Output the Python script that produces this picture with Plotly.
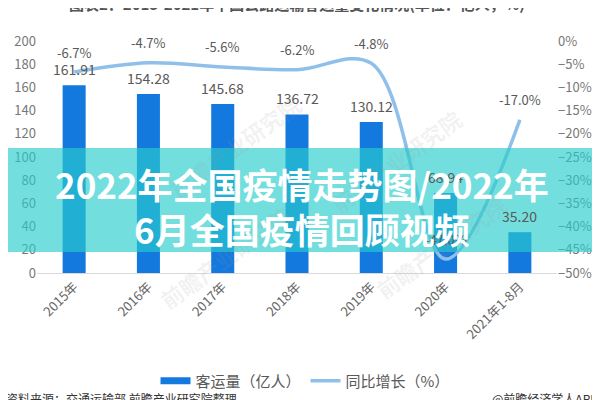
import plotly.graph_objects as go

categories = ["2015年", "2016年", "2017年", "2018年", "2019年", "2020年", "2021年1-8月"]
passengers = [161.91, 154.28, 145.68, 136.72, 130.12, 68.94, 35.20]
growth = [-6.7, -4.7, -5.6, -6.2, -4.8, -47.0, -17.0]

FONT = "Noto Sans CJK SC"
BAR_COLOR = "#1479DE"
LINE_COLOR = "#8FC0EA"

# page is offset by the browser's default 8px body margin; compensate in margins
OFF = 8
PL, PR, PT, PB = 37, 557, 41, 273  # plot area in page pixels


def py(page_y):
    return (PB - page_y) / (PB - PT)


def px(page_x):
    return (page_x - PL) / (PR - PL)


fig = go.Figure()

# faint watermarks
for wx, wy in [(235, 85), (470, 100), (225, 318), (515, 308)]:
    fig.add_annotation(text="<b>前瞻产业研究院</b>", xref="paper", yref="paper",
                       x=px(wx), y=py(wy), showarrow=False, textangle=-36,
                       font=dict(size=22, color="rgba(150,150,150,0.12)", family=FONT))

fig.add_trace(go.Bar(
    x=categories, y=passengers, name="客运量（亿人）", showlegend=False,
    marker=dict(color=BAR_COLOR, line=dict(width=0)), width=0.31,
))
fig.add_trace(go.Scatter(
    x=categories, y=growth, name="同比增长（%）", yaxis="y2", showlegend=False,
    mode="lines", line=dict(color=LINE_COLOR, width=3.5, shape="spline", smoothing=1),
    cliponaxis=False,
))
# legend entries
fig.add_trace(go.Scatter(x=[None], y=[None], mode="lines", name="客运量（亿人）",
                         line=dict(color=BAR_COLOR, width=7)))
fig.add_trace(go.Scatter(x=[None], y=[None], mode="lines", name="同比增长（%）",
                         line=dict(color=LINE_COLOR, width=3.5)))

for c, v in zip(categories, passengers):
    fig.add_annotation(x=c, y=v, xref="x", yref="y", text=f"{v:.2f}", showarrow=False,
                       yshift=16, font=dict(size=14, color="#595959", family=FONT))
for c, v in zip(categories, growth):
    fig.add_annotation(x=c, y=v, xref="x", yref="y2", text=f"{v:.1f}%", showarrow=False,
                       yshift=20, font=dict(size=13, color="#595959", family=FONT))

fig.update_layout(
    width=600, height=400,
    margin=dict(l=PL - OFF, r=600 - (PR - OFF), t=PT - OFF, b=400 - (PB - OFF), autoexpand=False),
    paper_bgcolor="white", plot_bgcolor="white",
    font=dict(family=FONT, color="#666666", size=12),
    xaxis=dict(tickangle=-45, showgrid=False, showline=True, linecolor="#D9D9D9",
               linewidth=1, ticks="", automargin=False,
               tickfont=dict(size=13, color="#666666")),
    yaxis=dict(range=[0, 200], dtick=20, showgrid=False, zeroline=False, ticks="",
               automargin=False, tickfont=dict(size=13, color="#777777")),
    yaxis2=dict(range=[-50, 0], dtick=5, overlaying="y", side="right", showgrid=False,
                zeroline=False, ticksuffix="%", ticks="", automargin=False,
                tickfont=dict(size=13, color="#777777")),
    legend=dict(orientation="h", x=px(305), xanchor="center", yref="container",
                y=1 - (381 - OFF) / 400, yanchor="middle",
                font=dict(size=15, color="#595959"), itemwidth=30, tracegroupgap=0),
    showlegend=True,
)

# title cut at the top
fig.add_annotation(text="<b>图表2：2015-2021年中国公路运输客运量变化情况(单位：亿人，%)</b>",
                   xref="paper", yref="paper", x=0.5, y=py(3), showarrow=False,
                   font=dict(size=15, color="#555555", family=FONT), yanchor="middle")
fig.add_annotation(text="资料来源：交通运输部 前瞻产业研究院整理",
                   xref="paper", yref="paper", x=px(4), xanchor="left", y=py(398),
                   yanchor="middle", showarrow=False,
                   font=dict(size=12, color="#333333", family=FONT))
fig.add_annotation(text="@前瞻经济学人APP",
                   xref="paper", yref="paper", x=px(600), xanchor="right", y=py(398),
                   yanchor="middle", showarrow=False,
                   font=dict(size=12, color="#333333", family=FONT))

# teal overlay band
fig.add_shape(type="rect", xref="paper", yref="paper", x0=px(-10), x1=px(610),
              y0=py(252), y1=py(148), fillcolor="rgba(40,205,205,0.65)",
              line=dict(width=0), layer="above")
fig.add_annotation(text="<b>2022年全国疫情走势图/2022年</b>", xref="paper", yref="paper",
                   x=px(302), y=py(183), yanchor="middle", showarrow=False,
                   font=dict(size=35, color="white", family=FONT))
fig.add_annotation(text="<b>6月全国疫情回顾视频</b>", xref="paper", yref="paper",
                   x=px(302), y=py(228), yanchor="middle", showarrow=False,
                   font=dict(size=35, color="white", family=FONT))

fig.write_html("out.html")
